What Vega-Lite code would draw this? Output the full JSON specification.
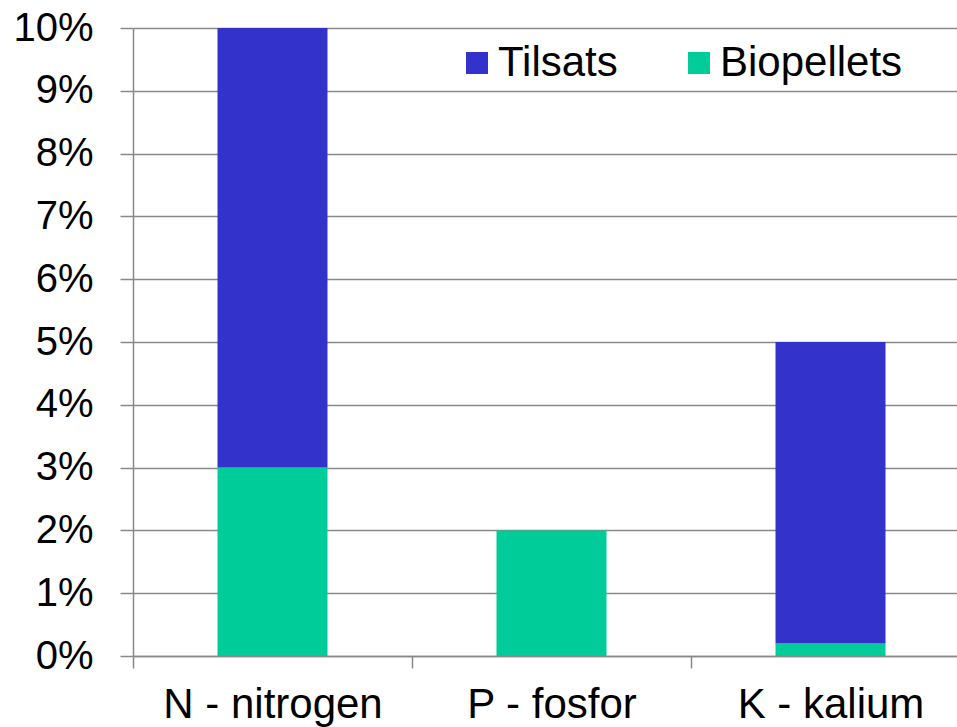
{
  "$schema": "https://vega.github.io/schema/vega-lite/v6.json",
  "autosize": "none",
  "width": 824,
  "height": 628,
  "padding": {"left": 133, "top": 28, "right": 0, "bottom": 71},
  "background": "white",
  "config": {
    "view": {"stroke": null},
    "font": "Liberation Sans",
    "axis": {"labelFont": "Liberation Sans", "labelColor": "#000000", "domainColor": "#898989", "tickColor": "#898989", "gridColor": "#898989", "domainWidth": 1.5, "tickWidth": 1.5, "gridWidth": 1.5}
  },
  "data": {
    "values": [
      {"element": "N - nitrogen", "series": "Biopellets", "value": 0.03},
      {"element": "N - nitrogen", "series": "Tilsats", "value": 0.07},
      {"element": "P - fosfor", "series": "Biopellets", "value": 0.02},
      {"element": "P - fosfor", "series": "Tilsats", "value": 0.0},
      {"element": "K - kalium", "series": "Biopellets", "value": 0.002},
      {"element": "K - kalium", "series": "Tilsats", "value": 0.048}
    ]
  },
  "mark": {"type": "bar", "width": 110},
  "encoding": {
    "x": {
      "field": "element", "type": "nominal",
      "sort": ["N - nitrogen", "P - fosfor", "K - kalium"],
      "scale": {"range": [0, 837], "paddingInner": 0, "paddingOuter": 0},
      "axis": {"title": null, "labelAngle": 0, "labelFontSize": 42, "labelLimit": 0, "tickBand": "extent", "tickSize": 12, "labelPadding": 16}
    },
    "y": {
      "field": "value", "type": "quantitative", "stack": "zero",
      "scale": {"domain": [0, 0.1], "nice": false},
      "axis": {"title": null, "format": ".0%", "values": [0, 0.01, 0.02, 0.03, 0.04, 0.05, 0.06, 0.07, 0.08, 0.09, 0.1], "labelFontSize": 40, "tickSize": 13, "labelPadding": 27, "grid": true}
    },
    "color": {
      "field": "series", "type": "nominal",
      "scale": {"domain": ["Tilsats", "Biopellets"], "range": ["#3333CC", "#00CC99"]},
      "legend": {"title": null, "orient": "none", "direction": "horizontal", "legendX": 323, "legendY": 14, "symbolType": "square", "symbolSize": 484, "symbolStrokeWidth": 0, "labelFontSize": 42, "labelLimit": 0, "labelColor": "#000000", "labelOffset": 0, "columnPadding": 60, "padding": 0}
    },
    "order": {"field": "series", "sort": "ascending"}
  }
}
